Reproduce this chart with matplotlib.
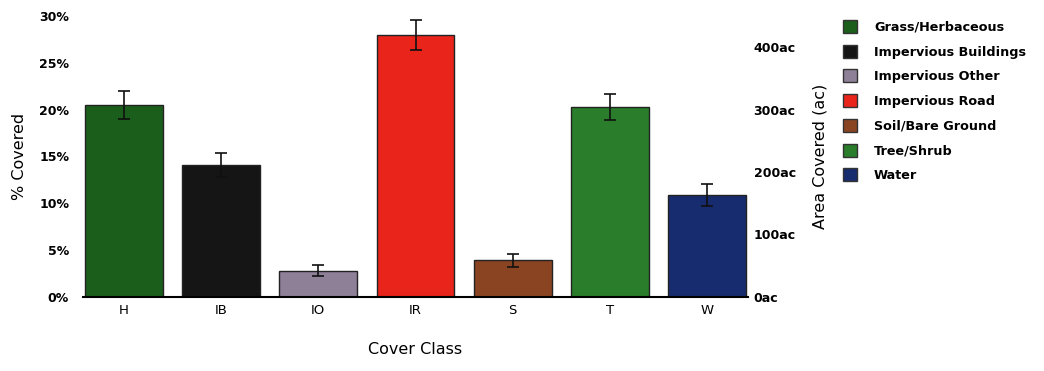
import numpy as np
from matplotlib import pyplot as plt
from matplotlib.patches import Patch
from matplotlib.ticker import FuncFormatter

# Cover classes
codes = ["H", "IB", "IO", "IR", "S", "T", "W"]
names = ["Grass/Herbaceous", "Impervious Buildings", "Impervious Other",
         "Impervious Road", "Soil/Bare Ground", "Tree/Shrub", "Water"]
colors = ["#1b5e1b", "#151515", "#8e8097", "#e8241b", "#8a4422", "#2a7d2a", "#172c6e"]

# Percent covered and error (percent)
pct = [20.5, 14.1, 2.8, 28.0, 3.9, 20.3, 10.9]
err = [1.5, 1.3, 0.6, 1.6, 0.7, 1.4, 1.2]

# acres per percent point (right axis)
ac_per_pct = 15.0

plt.rcParams["font.family"] = ["DejaVu Sans"]
fig = plt.figure(figsize=(10.44, 3.71), dpi=100)
ax = fig.add_axes([0.0795, 0.2, 0.637, 0.757])

x = np.arange(len(codes))
ax.bar(x, pct, width=0.8, color=colors, edgecolor="#222222", linewidth=1.0,
       yerr=err, error_kw=dict(ecolor="#111111", elinewidth=1.2, capsize=4, capthick=1.2))

ax.set_xlim(-0.42, 6.42)
ax.set_ylim(0, 30)
ax.set_xticks(x)
ax.set_xticklabels(codes, fontsize=9.5)
ax.set_yticks([0, 5, 10, 15, 20, 25, 30])
ax.yaxis.set_major_formatter(FuncFormatter(lambda v, p: f"{v:.0f}%"))
for lab in ax.get_yticklabels():
    lab.set_fontweight("bold")
ax.tick_params(axis="y", length=0, labelsize=9, pad=10)
ax.tick_params(axis="x", length=0, pad=5)
for s in ["top", "right", "left"]:
    ax.spines[s].set_visible(False)
ax.spines["bottom"].set_linewidth(1.5)
ax.set_ylabel("% Covered", fontsize=11.5, labelpad=9)
ax.set_xlabel("Cover Class", fontsize=11.5, labelpad=18)

ax2 = ax.twinx()
ax2.set_ylim(0, 30 * ac_per_pct)
ax2.set_yticks([0, 100, 200, 300, 400])
ax2.yaxis.set_major_formatter(FuncFormatter(lambda v, p: f"{v:.0f}ac"))
for lab in ax2.get_yticklabels():
    lab.set_fontweight("bold")
ax2.tick_params(axis="y", length=0, labelsize=9, pad=4)
for s in ["top", "right", "left", "bottom"]:
    ax2.spines[s].set_visible(False)
ax2.set_ylabel("Area Covered (ac)", fontsize=11.5, labelpad=12)

handles = [Patch(facecolor=c, edgecolor="#333333", label=n) for c, n in zip(colors, names)]
leg = fig.legend(handles=handles, loc="upper left", bbox_to_anchor=(0.803, 0.96),
                 frameon=False, fontsize=9.2, handlelength=1.1, handleheight=1.2,
                 labelspacing=0.85, handletextpad=1.3, borderaxespad=0)
for t in leg.get_texts():
    t.set_fontweight("bold")

fig.savefig("out.png", dpi=100)
